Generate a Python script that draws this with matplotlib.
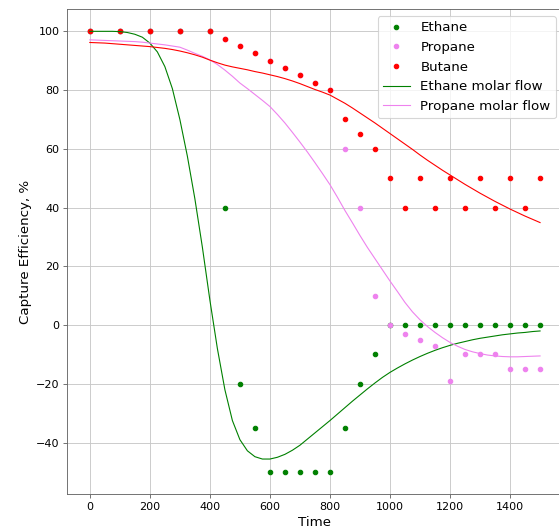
import matplotlib
matplotlib.use("Agg")
import matplotlib.pyplot as plt
import numpy as np

# measured points
time = [0, 100, 200, 300, 400, 450, 500, 550, 600, 650, 700, 750, 800,
        850, 900, 950, 1000, 1050, 1100, 1150, 1200, 1250, 1300, 1350,
        1400, 1450, 1500]
ethane = [100, 100, 100, 100, 100, 40, -20, -35, -50, -50, -50, -50, -50,
          -35, -20, -10, 0, 0, 0, 0, 0, 0, 0, 0, 0, 0, 0]
propane = [100, 100, 100, 100, 100, 97.5, 95, 92.5, 90, 87.5, 85, 82.5, 80,
           60, 40, 10, 0, -3, -5, -7, -19, -10, -10, -10, -15, -15, -15]
butane = [100, 100, 100, 100, 100, 97.5, 95, 92.5, 90, 87.5, 85, 82.5, 80,
          70, 65, 60, 50, 40, 50, 40, 50, 40, 50, 40, 50, 40, 50]

# model curves (read every 25 time units)
curve_time = list(range(0, 1525, 25))
ethane_flow = [100, 100, 100, 100, 99.9, 99.6, 99, 98, 96, 93, 88, 80.5, 70,
               57.5, 43, 26.5, 8.5, -8, -22, -32.5, -39, -42.8, -44.8, -45.6,
               -45.6, -45, -44, -42.6, -40.9, -38.8, -36.7, -34.6, -32.5,
               -30.3, -28.1, -25.9, -23.8, -21.7, -19.7, -17.8, -16.1, -14.6,
               -13.2, -11.9, -10.7, -9.6, -8.6, -7.7, -6.9, -6.2, -5.6, -5.0,
               -4.5, -4.1, -3.7, -3.3, -3.0, -2.7, -2.5, -2.2, -2.0]
propane_flow = [97.1, 97, 96.9, 96.8, 96.7, 96.6, 96.5, 96.3, 96.0, 95.7,
                95.4, 95.0, 94.6, 93.6, 92.5, 91.5, 90.3, 88.7, 86.8, 84.7,
                82.4, 80.5, 78.5, 76.5, 74.4, 71.7, 68.8, 65.6, 62.3, 58.9,
                55.3, 51.6, 47.8, 43.5, 39, 34.8, 30.5, 26.4, 22.6, 18.8,
                15, 11.4, 7.7, 4.5, 1.8, -0.5, -2.5, -4.3, -5.9, -7.2, -8.3,
                -9.1, -9.7, -10.2, -10.5, -10.7, -10.8, -10.8, -10.7, -10.6,
                -10.5]
butane_flow = [96.2, 96.1, 96, 95.8, 95.6, 95.4, 95.2, 95.0, 94.8, 94.5,
               94.2, 93.8, 93.3, 92.7, 92, 91.2, 90.2, 89.3, 88.5, 87.9,
               87.4, 86.9, 86.3, 85.8, 85.2, 84.6, 83.9, 83.1, 82.2, 81.2,
               80.2, 79.3, 78.3, 76.9, 75.5, 73.9, 72.2, 70.5, 68.8, 67,
               65.2, 63.4, 61.6, 59.8, 57.9, 56.1, 54.4, 52.7, 51.1, 49.5,
               47.9, 46.4, 44.9, 43.5, 42.1, 40.8, 39.5, 38.3, 37.1, 36.0, 34.9]

fig = plt.figure(figsize=(559 / 80, 528 / 80), dpi=80)
ax = fig.add_axes([0.1204, 0.0644, 0.886, 0.918])

ax.plot(time, ethane, '.', ms=8, color='green', label='Ethane')
ax.plot(time, propane, '.', ms=8, color='violet', label='Propane')
ax.plot(time, butane, '.', ms=8, color='red', label='Butane')
ax.plot(curve_time, ethane_flow, color='green', lw=1, label='Ethane molar flow')
ax.plot(curve_time, propane_flow, color='violet', lw=1, label='Propane molar flow')
ax.plot(curve_time, butane_flow, color='red', lw=1)

ax.set_xlabel('Time', fontsize=12)
ax.set_ylabel('Capture Efficiency, %', fontsize=12)
ax.tick_params(labelsize=10, color='0.4')
for s in ax.spines.values():
    s.set_color('0.4')
ax.grid(color='#c8c8c8')
ax.legend(loc='upper right', fontsize=12)

fig.savefig('out.png', dpi=80)
